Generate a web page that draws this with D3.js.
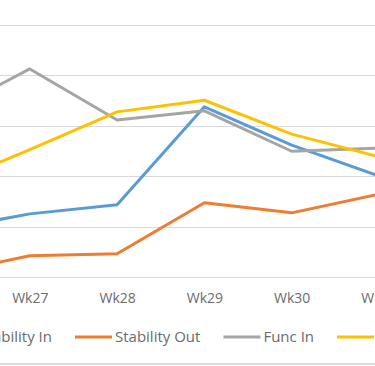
<!DOCTYPE html>
<html><head><meta charset="utf-8">
<script src="https://cdn.jsdelivr.net/npm/d3@7"></script>
<style>html,body{margin:0;padding:0;background:#fff;overflow:hidden}svg{display:block}</style>
</head><body>
<svg id="c" width="375" height="366"></svg>
<script>
const categories = ["Wk26","Wk27","Wk28","Wk29","Wk30","Wk31"];
const stabilityIn  = [9.3, 12.5, 14.3, 33.7, 26.1, 20.0];
const stabilityOut = [0.6, 4.2, 4.6, 14.7, 12.7, 16.4];
const funcIn       = [32.1, 41.2, 31.1, 32.9, 24.9, 25.5];
const funcOut      = [18.0, 25.2, 32.7, 35.0, 28.3, 23.8];
const yTicks = [0, 10, 20, 30, 40, 50];
const seriesNames = ["Stability In","Stability Out","Func In","Func Out"];
const seriesColors = ["#5B9BD5","#ED7D31","#A5A5A5","#FFC000"];
const seriesValues = [stabilityIn, stabilityOut, funcIn, funcOut];

const W = 375;
const svg = d3.select("#c");
const x = d3.scalePoint().domain(categories).range([-57.5, 379]);
const y = d3.scaleLinear().domain([0, 50]).range([277, 24.5]);

// gridlines
svg.append("g").selectAll("line").data(yTicks).join("line")
  .attr("x1", 0).attr("x2", W)
  .attr("y1", d => Math.round(y(d)) + 0.5).attr("y2", d => Math.round(y(d)) + 0.5)
  .attr("stroke", "#D9D9D9").attr("stroke-width", 1.2);

// x axis labels (only those whose label falls inside the visible crop)
const visibleCats = categories.filter(c => x(c) > 0);
const xAxis = d3.axisBottom(x).tickValues(visibleCats).tickSize(0).tickPadding(0);
const gx = svg.append("g").attr("transform", "translate(0,303)").call(xAxis);
gx.select(".domain").remove();
gx.selectAll("text").attr("font-family", "'Open Sans', sans-serif").attr("font-size", 14)
  .attr("fill", "#6b6b6b").attr("y", 0).attr("dy", 0);

// lines
const line = d3.line().x((d, i) => x(categories[i])).y(d => y(d));
svg.append("g").selectAll("path").data(seriesValues).join("path")
  .attr("d", d => line(d)).attr("fill", "none")
  .attr("stroke", (d, i) => seriesColors[i]).attr("stroke-width", 3)
  .attr("stroke-linejoin", "round").attr("stroke-linecap", "round");

// legend
const lg = svg.append("g").attr("font-family", "'Open Sans', sans-serif").attr("font-size", 15).attr("fill", "#6b6b6b");
const widths = seriesNames.map(n => {
  const t = lg.append("text").text(n);
  const w = t.node().getComputedTextLength();
  t.remove();
  return w;
});
const lineLen = 37, gapA = 3, gapB = 23;
let pos = [];
let xs = 75 - (lineLen + gapA + widths[0] + gapB);
for (let i = 0; i < seriesNames.length; i++) { pos.push(xs); xs += lineLen + gapA + widths[i] + gapB; }
const items = lg.selectAll("g").data(seriesNames).join("g")
  .attr("transform", (d, i) => `translate(${pos[i]},337)`);
items.append("line").attr("x1", 0).attr("x2", lineLen).attr("y1", 0).attr("y2", 0)
  .attr("stroke", (d, i) => seriesColors[i]).attr("stroke-width", 3);
items.append("text").attr("x", lineLen + gapA).attr("dy", "0.35em").text(d => d);

// bottom border
svg.append("line").attr("x1", 0).attr("x2", W).attr("y1", 364).attr("y2", 364)
  .attr("stroke", "#D9D9D9").attr("stroke-width", 2);
</script>
</body></html>
